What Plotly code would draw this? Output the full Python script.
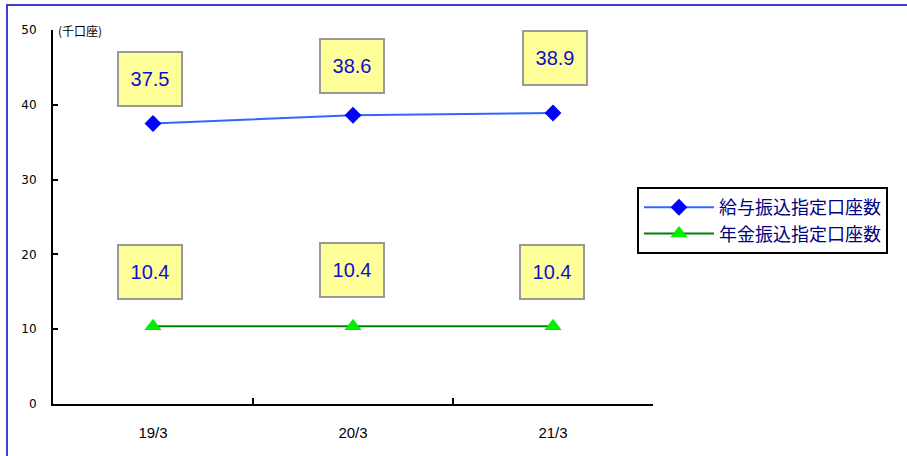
import plotly.graph_objects as go

categories = ["19/3", "20/3", "21/3"]
salary_accounts = [37.5, 38.6, 38.9]
pension_accounts = [10.4, 10.4, 10.4]
series_names = ["給与振込指定口座数", "年金振込指定口座数"]
y_ticks = [0, 10, 20, 30, 40, 50]
unit_label = "(千口座)"

# label box offsets (px) relative to each point
salary_offsets = [(-3, 45), (-1, 49), (2, 55)]
pension_offsets = [(-3, 54), (-1, 56), (-1, 54)]

W, H = 907, 456
L, R, T, B = 53, 254, 30, 52
pw, ph = W - L - R, H - T - B

fig = go.Figure()
fig.add_trace(go.Scatter(
    x=categories, y=salary_accounts, name=series_names[0], mode="lines+markers",
    line=dict(color="#3366ff", width=2),
    marker=dict(symbol="diamond", size=13, color="#0000ff"),
))
fig.add_trace(go.Scatter(
    x=categories, y=pension_accounts, name=series_names[1], mode="lines+markers",
    line=dict(color="#008000", width=2),
    marker=dict(symbol="triangle-up", size=15, color="#00ee00"),
))

annotations = []
for vals, offs in ((salary_accounts, salary_offsets), (pension_accounts, pension_offsets)):
    for c, v, (dx, dy) in zip(categories, vals, offs):
        annotations.append(dict(
            x=c, y=v, xref="x", yref="y", text=f"{v:.1f}", showarrow=False,
            xshift=dx, yshift=dy, width=62, height=52,
            bgcolor="#ffff99", bordercolor="#999999", borderwidth=2, borderpad=0,
            font=dict(family="Liberation Sans", size=20, color="#1010cc"),
        ))
annotations.append(dict(
    x=0, y=1, xref="paper", yref="paper", text=unit_label, showarrow=False,
    xanchor="left", yanchor="middle", xshift=3,
    font=dict(family="Noto Sans CJK JP", size=12, color="#000000"),
))

fig.update_layout(
    width=W, height=H,
    margin=dict(l=L, r=R, t=T, b=B, pad=0),
    paper_bgcolor="white", plot_bgcolor="white",
    showlegend=True,
    legend=dict(
        x=(637 - L) / pw, y=1 - (187 - T) / ph, xanchor="left", yanchor="top",
        bgcolor="white", bordercolor="#000000", borderwidth=2,
        font=dict(family="Noto Sans CJK JP", size=18, color="#000080"),
        tracegroupgap=0, itemwidth=70,
    ),
    annotations=annotations,
    shapes=[dict(
        type="rect", xref="paper", yref="paper",
        x0=(7 - L) / pw, x1=1.6, y0=-0.3, y1=1 + (T - 5) / ph,
        line=dict(color="#4040d0", width=2), layer="below",
    )],
    xaxis=dict(
        type="category", range=[-0.5, 2.5], tickson="boundaries",
        ticks="inside", ticklen=6, tickwidth=2, tickcolor="#000000",
        showline=True, linecolor="#000000", linewidth=2, showgrid=False,
        tickfont=dict(family="Liberation Sans", size=15, color="#000000"),
        ticklabelstandoff=14, zeroline=False,
    ),
    yaxis=dict(
        range=[0, 50], tickvals=y_ticks,
        ticks="inside", ticklen=5, tickwidth=2, tickcolor="#000000",
        showline=True, linecolor="#000000", linewidth=2, showgrid=False,
        tickfont=dict(family="DejaVu Sans", size=12, color="#000000"),
        ticklabelstandoff=12, zeroline=False,
    ),
)

fig.write_html("out.html", config={"displayModeBar": False},
               post_script="document.body.style.margin='0';")
